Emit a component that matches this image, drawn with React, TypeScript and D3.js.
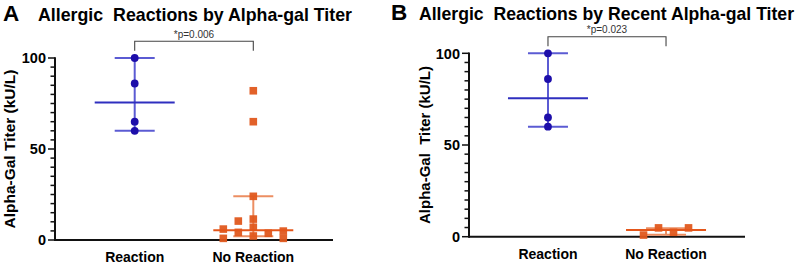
import React from 'react';
import * as d3 from 'd3';

// ---- data ----
const categories = ['Reaction', 'No Reaction'];
const yTicksMajor = [0, 50, 100];
const yTicksMinor = d3.range(0, 101, 5);

const reactionA = [100, 86, 65, 60];
const reactionALanes = [0, 0, 0, 0];
const noReactionA = [82, 65, 24, 11.5, 7.0, 2.2, 10.4, 4.2, 6.0, 0.9, 3.7, 4.9, 0.9];
const noReactionALanes = [0, 0, 0, 0, 0, 0, -1, -1, -2, -2, 1, 2, 2];

const reactionB = [100, 86, 65, 60];
const reactionBLanes = [0, 0, 0, 0];
const noReactionB = [0.9, 4.8, 2.4, 4.8];
const noReactionBLanes = [-1.5, -0.5, 0.5, 1.5];

// center line, lower bar, upper bar
const summaryReactionA = [75.5, 60, 100];
const summaryNoReactionA = [5.3, 2.1, 24];
const summaryReactionB = [75.5, 60, 100];
const summaryNoReactionB = [3.6, 1.0, 4.6];

const pLabelA = '*p=0.006';
const pLabelB = '*p=0.023';
const titleA = 'Allergic  Reactions by Alpha-gal Titer';
const titleB = 'Allergic  Reactions by Recent Alpha-gal Titer';
const yLabelA = 'Alpha-Gal Titer (kU/L)';
const yLabelB = 'Alpha-Gal  Titer (kU/L)';

const FONT = '"Liberation Sans", Arial, Helvetica, sans-serif';

const styles = {
  blue: { dot: '#1d0eaa', line: '#2f2fbf', bar: '#5b5bd3' },
  orange: { dot: '#e0581d', line: '#e4561a', bar: '#ec8e62' },
};

type Group = {
  values: number[];
  lanes: number[];
  summary: number[];
  color: { dot: string; line: string; bar: string };
  shape: 'circle' | 'square';
};

type PanelProps = {
  letter: string;
  letterX: number;
  title: string;
  titleX: number;
  titleW: number;
  titleY: number;
  x0: number;
  x1: number;
  yTop: number;
  yBottom: number;
  pad: number;
  yLabel: string;
  yLabelX: number;
  yLabelW: number;
  pLabel: string;
  bracketY: number;
  groups: Group[];
};

function Panel(p: PanelProps) {
  const y = d3.scaleLinear().domain([0, 100]).range([p.yBottom, p.yTop]);
  const x = d3.scalePoint<string>().domain(categories).range([p.x0, p.x1]).padding(p.pad);
  const laneW = 15;
  const meanHalf = 40;
  const capHalf = 20;
  const cx0 = x(categories[0])!;
  const cx1 = x(categories[1])!;
  const yMid = (p.yTop + p.yBottom) / 2;
  return (
    <g>
      <text x={p.letterX} y={p.titleY} fontFamily={FONT} fontWeight="bold" fontSize={22.5}>{p.letter}</text>
      <text x={p.titleX} y={p.titleY} fontFamily={FONT} fontWeight="bold" fontSize={17.8}
        textLength={p.titleW} lengthAdjust="spacingAndGlyphs" style={{ whiteSpace: 'pre' }}>{p.title}</text>

      {/* bracket */}
      <path d={`M${cx0},${p.bracketY + 9.5}V${p.bracketY}H${cx1}V${p.bracketY + 9.5}`} fill="none" stroke="#444" strokeWidth={1.1} />
      <text x={(cx0 + cx1) / 2} y={p.bracketY - 3.8} textAnchor="middle" fontFamily={FONT} fontSize={10} fill="#333">{p.pLabel}</text>

      {/* y axis */}
      {yTicksMinor.map((t) => (
        <line key={'m' + t} x1={p.x0 - (yTicksMajor.includes(t) ? 7 : 4.5)} x2={p.x0} y1={y(t)} y2={y(t)} stroke="#111" strokeWidth={1.5} />
      ))}
      {yTicksMajor.map((t) => (
        <text key={'l' + t} x={p.x0 - 9} y={y(t)} dy="0.36em" textAnchor="end" fontFamily={FONT} fontWeight="bold" fontSize={14.5}>{t}</text>
      ))}
      <line x1={p.x0} x2={p.x0} y1={y(100) - 0.8} y2={p.yBottom + 1} stroke="#111" strokeWidth={2} />
      <line x1={p.x0} x2={p.x1} y1={p.yBottom} y2={p.yBottom} stroke="#111" strokeWidth={2} />
      <text transform={`translate(${p.yLabelX},${yMid}) rotate(-90)`} textAnchor="middle" fontFamily={FONT} fontWeight="bold" fontSize={15.5}
        textLength={p.yLabelW} lengthAdjust="spacingAndGlyphs" style={{ whiteSpace: 'pre' }}>{p.yLabel}</text>

      {/* x labels */}
      {categories.map((c) => (
        <text key={c} x={x(c)!} y={p.yBottom + 22} textAnchor="middle" fontFamily={FONT} fontWeight="bold" fontSize={14}>{c}</text>
      ))}

      {/* groups */}
      {p.groups.map((g, gi) => {
        const cx = x(categories[gi])!;
        const [center, lo, hi] = g.summary;
        return (
          <g key={gi}>
            <line x1={cx} x2={cx} y1={y(lo)} y2={y(hi)} stroke={g.color.bar} strokeWidth={2} />
            <line x1={cx - capHalf} x2={cx + capHalf} y1={y(lo)} y2={y(lo)} stroke={g.color.bar} strokeWidth={2} />
            <line x1={cx - capHalf} x2={cx + capHalf} y1={y(hi)} y2={y(hi)} stroke={g.color.bar} strokeWidth={2} />
            {g.values.map((v, i) => {
              const px = cx + g.lanes[i] * laneW;
              const py = y(v);
              return g.shape === 'circle' ? (
                <circle key={i} cx={px} cy={py} r={3.9} fill={g.color.dot} />
              ) : (
                <rect key={i} x={px - 3.8} y={py - 3.8} width={7.6} height={7.6} fill={g.color.dot} opacity={0.95} />
              );
            })}
            <line x1={cx - meanHalf} x2={cx + meanHalf} y1={y(center)} y2={y(center)} stroke={g.color.line} strokeWidth={2} />
          </g>
        );
      })}
    </g>
  );
}

export default function App() {
  return (
    <svg width={797} height={271} style={{ position: 'fixed', left: 0, top: 0, background: '#fff' }}>
      <rect width={797} height={271} fill="#fff" />
      <Panel letter="A" letterX={3} title={titleA} titleX={38} titleW={314} titleY={21}
        x0={55} x1={333} yTop={58} yBottom={240} pad={0.672}
        yLabel={yLabelA} yLabelX={14.5} yLabelW={159} pLabel={pLabelA} bracketY={41.3}
        groups={[
          { values: reactionA, lanes: reactionALanes, summary: summaryReactionA, color: styles.blue, shape: 'circle' },
          { values: noReactionA, lanes: noReactionALanes, summary: summaryNoReactionA, color: styles.orange, shape: 'square' },
        ]} />
      <Panel letter="B" letterX={391} title={titleB} titleX={419} titleW={375} titleY={20}
        x0={469} x1={745} yTop={53.3} yBottom={236.7} pad={0.669}
        yLabel={yLabelB} yLabelX={429.5} yLabelW={158} pLabel={pLabelB} bracketY={36.7}
        groups={[
          { values: reactionB, lanes: reactionBLanes, summary: summaryReactionB, color: styles.blue, shape: 'circle' },
          { values: noReactionB, lanes: noReactionBLanes, summary: summaryNoReactionB, color: styles.orange, shape: 'square' },
        ]} />
    </svg>
  );
}
